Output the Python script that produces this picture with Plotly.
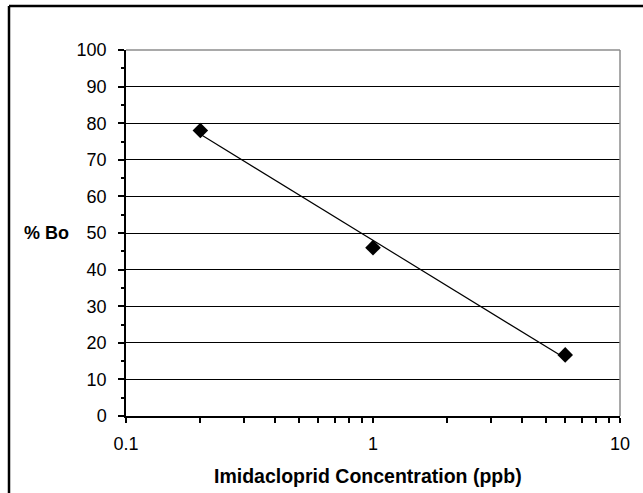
import numpy as np
import plotly.graph_objects as go

# Data
conc = [0.2, 1.0, 6.0]
bo_pct = [78, 46, 16.7]
x_tick_vals = [0.1, 1, 10]
x_tick_text = ["0.1", "1", "10"]
x_minor_vals = [0.2, 0.3, 0.4, 0.5, 0.6, 0.7, 0.8, 0.9, 2, 3, 4, 5, 6, 7, 8, 9]
y_tick_vals = list(range(0, 101, 10))

# logarithmic trend line fit
b, a = np.polyfit(np.log(conc), bo_pct, 1)
tx = np.logspace(np.log10(min(conc)), np.log10(max(conc)), 60)
ty = a + b * np.log(tx)

fig = go.Figure()
fig.add_trace(go.Scatter(x=tx, y=ty, mode="lines",
                         line=dict(color="black", width=1.2), hoverinfo="skip"))
fig.add_trace(go.Scatter(x=conc, y=bo_pct, mode="markers",
                         marker=dict(symbol="diamond", size=12, color="black")))

L, R, T, B = 126, 23, 50, 77
W, H = 643, 493
pw, ph = W - L - R, H - T - B

fig.update_layout(
    width=W, height=H,
    margin=dict(l=L, r=R, t=T, b=B),
    paper_bgcolor="white", plot_bgcolor="white",
    showlegend=False,
    font=dict(family="Liberation Sans, Arial, sans-serif", color="black", size=18),
    xaxis=dict(type="log", range=[-1, 1], tickvals=x_tick_vals, ticktext=x_tick_text,
               showgrid=False, zeroline=False,
               showline=True, linecolor="black", linewidth=1.5,
               ticks="outside", ticklen=5, tickcolor="black", tickwidth=1.5,
               minor=dict(tickvals=x_minor_vals, ticks="outside", ticklen=5,
                          tickcolor="black", tickwidth=1.5, showgrid=False),
               ticklabelstandoff=6),
    yaxis=dict(range=[0, 100], tickvals=y_tick_vals,
               showgrid=True, gridcolor="black", gridwidth=1,
               zeroline=False,
               showline=True, linecolor="black", linewidth=1.5,
               ticks="outside", ticklen=6, tickcolor="black", tickwidth=1.5,
               minor=dict(dtick=5, ticks="outside", ticklen=3, tickcolor="black",
                          tickwidth=1.5, showgrid=False),
               ticklabelstandoff=8),
)

# gray top and right plot-area borders
fig.add_shape(type="line", xref="paper", yref="paper", x0=0, x1=1, y0=1, y1=1,
              line=dict(color="#8c8c8c", width=1.5), layer="above")
fig.add_shape(type="line", xref="paper", yref="paper", x0=1, x1=1, y0=0, y1=1,
              line=dict(color="#8c8c8c", width=1.5), layer="above")

# outer chart border (left and top visible)
bx = (9 - L) / pw
by = 1 + (T - 6) / ph
fig.add_shape(type="line", xref="paper", yref="paper", x0=bx, x1=1.2, y0=by, y1=by,
              line=dict(color="black", width=2.5))
fig.add_shape(type="line", xref="paper", yref="paper", x0=bx, x1=bx, y0=-0.4, y1=by,
              line=dict(color="black", width=2.5))

# axis titles
fig.add_annotation(text="<b>% Bo</b>", xref="paper", yref="y",
                   x=(22 - L) / pw, y=50, xanchor="left", yanchor="middle",
                   showarrow=False, font=dict(size=18))
fig.add_annotation(text="<b>Imidacloprid Concentration (ppb)</b>", xref="paper", yref="paper",
                   x=(368 - L) / pw, y=-(476 - (H - B)) / ph, xanchor="center", yanchor="middle",
                   showarrow=False, font=dict(size=19.5))

fig.write_html("out.html", config={"displayModeBar": False})

with open("out.html", "r", encoding="utf-8") as f:
    html = f.read()
html = html.replace("<head>", "<head><style>html,body{margin:0;padding:0;overflow:hidden;}</style>", 1)
with open("out.html", "w", encoding="utf-8") as f:
    f.write(html)
